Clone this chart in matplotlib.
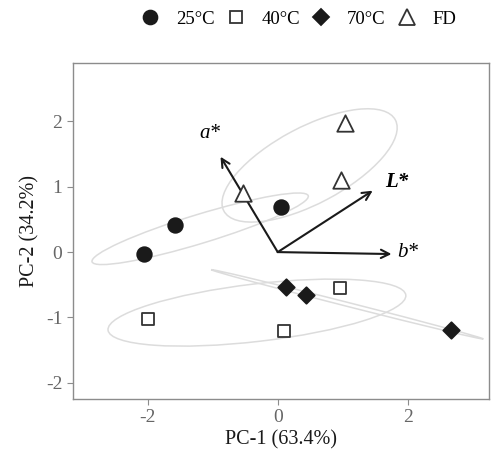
import numpy as np
import matplotlib
matplotlib.use("Agg")
from matplotlib import pyplot as plt
from matplotlib.patches import Ellipse
from matplotlib.lines import Line2D

plt.rcParams['font.family'] = ['Liberation Serif', 'DejaVu Serif']
plt.rcParams['axes.unicode_minus'] = False

groups = ['25°C', '40°C', '70°C', 'FD']
pc1 = {
    '25°C': [-2.05, -1.58, 0.05],
    '40°C': [-2.00, 0.09, 0.95],
    '70°C': [0.12, 0.43, 2.66],
    'FD':   [-0.54, 1.03, 0.98],
}
pc2 = {
    '25°C': [-0.03, 0.41, 0.69],
    '40°C': [-1.02, -1.21, -0.55],
    '70°C': [-0.54, -0.66, -1.20],
    'FD':   [0.90, 1.98, 1.10],
}
loadings = ['a*', 'L*', 'b*']
load_x = [-0.88, 1.46, 1.75]
load_y = [1.46, 0.94, -0.03]

styles = {
    '25°C': dict(marker='o', s=110, facecolor='#1a1a1a', edgecolor='#1a1a1a'),
    '40°C': dict(marker='s', s=70, facecolor='white', edgecolor='#333333'),
    '70°C': dict(marker='D', s=70, facecolor='#1a1a1a', edgecolor='#1a1a1a'),
    'FD':   dict(marker='^', s=140, facecolor='white', edgecolor='#333333'),
}

fig = plt.figure(figsize=(4.96, 4.54), dpi=100)
ax = fig.add_axes([0.147, 0.121, 0.839, 0.741])

# ellipses around each group (normal, ~68% level)
scale = np.sqrt(-2 * np.log(1 - 0.68))
for g in groups:
    x = np.array(pc1[g]); y = np.array(pc2[g])
    cov = np.cov(x, y)
    vals, vecs = np.linalg.eigh(cov)
    order = vals.argsort()[::-1]
    vals, vecs = vals[order], vecs[:, order]
    ang = np.degrees(np.arctan2(vecs[1, 0], vecs[0, 0]))
    w = 2 * scale * np.sqrt(max(vals[0], 0))
    h = 2 * scale * np.sqrt(max(vals[1], 1e-5))
    e = Ellipse((x.mean(), y.mean()), w, max(h, 0.02), angle=ang,
                fill=False, edgecolor='#dcdcdc', lw=1.1, zorder=1)
    ax.add_patch(e)

for g in groups:
    st = styles[g]
    ax.scatter(pc1[g], pc2[g], marker=st['marker'], s=st['s'],
               facecolors=st['facecolor'], edgecolors=st['edgecolor'],
               linewidths=1.3, zorder=4)

# loading arrows
for name, lx, ly in zip(loadings, load_x, load_y):
    ax.annotate('', xy=(lx, ly), xytext=(0, 0),
                arrowprops=dict(arrowstyle='->', color='#1a1a1a', lw=1.5,
                                mutation_scale=15, shrinkA=0, shrinkB=0),
                zorder=3)
ax.text(-1.05, 1.82, 'a*', fontsize=15, style='italic', ha='center', va='center')
ax.text(1.65, 1.07, 'L*', fontsize=15, style='italic', weight='bold', ha='left', va='center')
ax.text(1.83, 0.0, 'b*', fontsize=15, style='italic', ha='left', va='center')

ax.set_xlim(-3.15, 3.25)
ax.set_ylim(-2.25, 2.9)
ax.set_xticks([-2, 0, 2])
ax.set_yticks([-2, -1, 0, 1, 2])
for sp in ax.spines.values():
    sp.set_color('#8c8c8c')
    sp.set_linewidth(1.0)
ax.tick_params(colors='#8c8c8c', labelcolor='#666666', labelsize=14, length=4)
ax.set_xlabel('PC-1 (63.4%)', fontsize=14.5, color='#1a1a1a', labelpad=3)
ax.set_ylabel('PC-2 (34.2%)', fontsize=14.5, color='#1a1a1a', labelpad=5)

handles = []
for g in groups:
    st = styles[g]
    handles.append(Line2D([], [], ls='none', marker=st['marker'],
                          markersize=np.sqrt(st['s']) * 0.95, markerfacecolor=st['facecolor'],
                          markeredgecolor=st['edgecolor'], markeredgewidth=1.3, label=g))
fig.legend(handles=handles, loc='center', bbox_to_anchor=(0.6, 0.958), ncol=4,
           frameon=False, fontsize=13.5, handletextpad=0.75, columnspacing=0.55,
           handlelength=1.2)

fig.savefig('out.png', dpi=100)
